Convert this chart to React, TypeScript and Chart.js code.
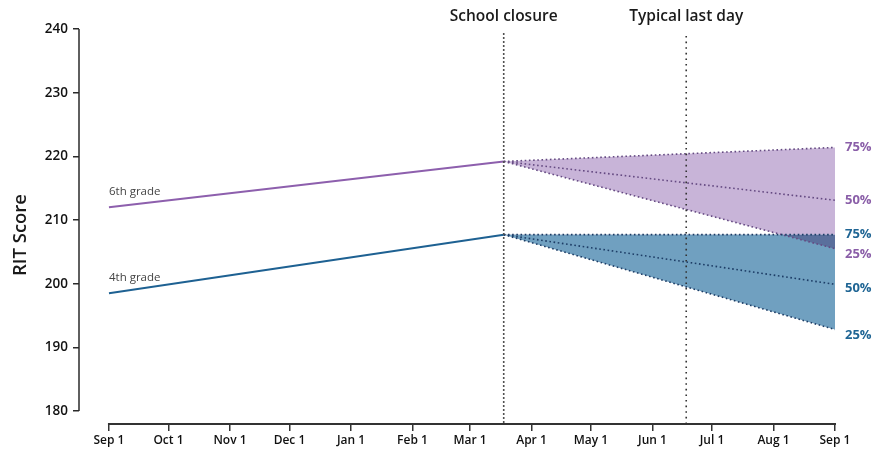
import React, { useEffect, useRef } from 'react';
import { Chart, registerables } from 'chart.js';

Chart.register(...registerables);

// ---- Data ----
const monthDays = [0, 30, 61, 91, 122, 153, 182, 213, 243, 274, 304, 335, 366];
const monthLabels = ['Sep 1', 'Oct 1', 'Nov 1', 'Dec 1', 'Jan 1', 'Feb 1', 'Mar 1', 'Apr 1', 'May 1', 'Jun 1', 'Jul 1', 'Aug 1', 'Sep 1'];
const yTicks = [180, 190, 200, 210, 220, 230, 240];
const yTitle = 'RIT Score';

const closureDay = 199;
const lastDay = 291;
const endDay = 366;

const sixthActual = [212.0, 219.2]; // Sep 1, school closure
const fourthActual = [198.5, 207.7];

const percentileLabels = ['75%', '50%', '25%'];
const sixthEnd = [221.4, 213.1, 205.5]; // projected on Sep 1
const fourthEnd = [207.7, 199.9, 192.8];

const gradeLabels = ['6th grade', '4th grade'];
const eventLabels = ['School closure', 'Typical last day'];

// ---- Styles ----
const FONT = '"Open Sans", "Noto Sans", sans-serif';
const PURPLE = '#8d5fad';
const PURPLE_TEXT = '#8a5ea8';
const PURPLE_DOT = '#654a82';
const PURPLE_FILL = '#c8b4d8';
const BLUE = '#1e6192';
const BLUE_TEXT = '#1f6594';
const BLUE_DOT = '#1d3d66';
const BLUE_FILL = '#70a0c0';
const OVERLAP = '#5a6f9c';

const seg = (x0: number, y0: number, x1: number, y1: number) => [
  { x: x0, y: y0 },
  { x: x1, y: y1 },
];

const overlayPlugin = {
  id: 'overlay',
  afterDraw(chart: any) {
    const { ctx, scales } = chart;
    const xs = scales.x;
    const ys = scales.y;
    const axisY = chart.chartArea.bottom;
    ctx.save();

    // vertical event lines
    const xc = xs.getPixelForValue(closureDay);
    ctx.strokeStyle = '#505050';
    ctx.lineWidth = 1.6;
    ctx.setLineDash([2, 2]);
    ctx.beginPath();
    ctx.moveTo(xc, 33);
    ctx.lineTo(xc, axisY);
    ctx.stroke();

    const xl = xs.getPixelForValue(lastDay);
    ctx.strokeStyle = '#333';
    ctx.lineWidth = 1.6;
    ctx.setLineDash([1.6, 4]);
    ctx.beginPath();
    ctx.moveTo(xl, 36);
    ctx.lineTo(xl, axisY);
    ctx.stroke();
    ctx.setLineDash([]);

    // axis lines
    ctx.strokeStyle = '#2a2a2a';
    ctx.lineWidth = 1.5;
    const ax = chart.chartArea.left;
    ctx.beginPath();
    ctx.moveTo(ax, ys.getPixelForValue(yTicks[yTicks.length - 1]));
    ctx.lineTo(ax, ys.getPixelForValue(yTicks[0]));
    ctx.stroke();
    ctx.lineWidth = 2;
    ctx.strokeStyle = '#333';
    ctx.beginPath();
    ctx.moveTo(xs.getPixelForValue(monthDays[0]) - 1, axisY);
    ctx.lineTo(xs.getPixelForValue(monthDays[monthDays.length - 1]) + 1, axisY);
    ctx.stroke();

    // y-axis title
    ctx.save();
    ctx.translate(21, 235);
    ctx.rotate(-Math.PI / 2);
    ctx.fillStyle = '#1a1a1a';
    ctx.font = `600 18.5px ${FONT}`;
    ctx.textAlign = 'center';
    ctx.textBaseline = 'middle';
    ctx.fillText(yTitle, 0, 0);
    ctx.restore();

    // event labels
    ctx.fillStyle = '#1a1a1a';
    ctx.font = `600 15.5px ${FONT}`;
    ctx.textAlign = 'center';
    ctx.textBaseline = 'middle';
    ctx.fillText(eventLabels[0], xc, 17);
    ctx.fillText(eventLabels[1], xl, 17);

    // grade labels
    ctx.font = `11.5px ${FONT}`;
    ctx.fillStyle = '#444';
    ctx.textAlign = 'left';
    ctx.textBaseline = 'alphabetic';
    const x0 = xs.getPixelForValue(0);
    ctx.fillText(gradeLabels[0], x0, ys.getPixelForValue(sixthActual[0]) - 12);
    ctx.fillText(gradeLabels[1], x0, ys.getPixelForValue(fourthActual[0]) - 12);

    // percentile labels
    ctx.font = `700 13px ${FONT}`;
    ctx.textBaseline = 'middle';
    const xe = xs.getPixelForValue(endDay) + 10;
    const sixthOffsets = [0, 0, 6];
    const fourthOffsets = [0, 4, 6];
    ctx.fillStyle = PURPLE_TEXT;
    sixthEnd.forEach((v, i) => ctx.fillText(percentileLabels[i], xe, ys.getPixelForValue(v) + sixthOffsets[i]));
    ctx.fillStyle = BLUE_TEXT;
    fourthEnd.forEach((v, i) => ctx.fillText(percentileLabels[i], xe, ys.getPixelForValue(v) + fourthOffsets[i]));

    ctx.restore();
  },
};

const dotted = (color: string) => ({
  borderColor: color,
  borderWidth: 1.6,
  borderDash: [1.6, 2.6],
  pointRadius: 0,
});

export default function App() {
  const ref = useRef<HTMLCanvasElement>(null);

  useEffect(() => {
    const canvas = ref.current!;
    const chart = new Chart(canvas, {
      type: 'line',
      data: {
        datasets: [
          // 0: 6th grade actual
          {
            data: seg(0, sixthActual[0], closureDay, sixthActual[1]),
            borderColor: PURPLE,
            borderWidth: 2,
            pointRadius: 0,
            fill: false,
            order: 0,
          },
          // 1: 4th grade actual
          {
            data: seg(0, fourthActual[0], closureDay, fourthActual[1]),
            borderColor: BLUE,
            borderWidth: 2,
            pointRadius: 0,
            fill: false,
            order: 0,
          },
          // 2: 6th 25% (overlap fill with 4th 75%)
          {
            data: seg(closureDay, sixthActual[1], endDay, sixthEnd[2]),
            ...dotted(PURPLE_DOT),
            fill: { target: 5, above: 'rgba(0,0,0,0)', below: OVERLAP },
            order: 8,
          },
          // 3: 6th 75% (purple band)
          {
            data: seg(closureDay, sixthActual[1], endDay, sixthEnd[0]),
            ...dotted(PURPLE_DOT),
            fill: { target: 2, above: PURPLE_FILL, below: PURPLE_FILL },
            order: 10,
          },
          // 4: 4th 25% (blue band)
          {
            data: seg(closureDay, fourthActual[1], endDay, fourthEnd[2]),
            ...dotted(BLUE_DOT),
            fill: { target: 5, above: BLUE_FILL, below: BLUE_FILL },
            order: 9,
          },
          // 5: 4th 75%
          {
            data: seg(closureDay, fourthActual[1], endDay, fourthEnd[0]),
            ...dotted(BLUE_DOT),
            fill: false,
            order: 1,
          },
          // 6: 6th 50%
          {
            data: seg(closureDay, sixthActual[1], endDay, sixthEnd[1]),
            ...dotted(PURPLE_DOT),
            fill: false,
            order: 2,
          },
          // 7: 4th 50%
          {
            data: seg(closureDay, fourthActual[1], endDay, fourthEnd[1]),
            ...dotted(BLUE_DOT),
            fill: false,
            order: 2,
          },
        ] as any,
      },
      options: {
        animation: false,
        responsive: false,
        devicePixelRatio: 1,
        events: [],
        layout: { padding: { left: 0, right: 40, top: 29, bottom: 0 } },
        plugins: {
          legend: { display: false },
          tooltip: { enabled: false },
        },
        scales: {
          x: {
            type: 'linear',
            min: -15.1,
            max: endDay,
            afterBuildTicks: (scale: any) => {
              scale.ticks = monthDays.map((v) => ({ value: v }));
            },
            afterFit: (scale: any) => {
              scale.height = 28;
            },
            ticks: {
              autoSkip: false,
              maxRotation: 0,
              padding: 2,
              color: '#111',
              font: { family: FONT, size: 12, weight: '600' },
              callback: (v: any) => {
                const i = monthDays.indexOf(Number(v));
                return i >= 0 ? monthLabels[i] : '';
              },
            },
            grid: {
              display: true,
              drawOnChartArea: false,
              drawTicks: true,
              tickLength: 7,
              color: '#333',
              lineWidth: 1.5,
            },
            border: { display: false },
          },
          y: {
            type: 'linear',
            min: 177.96,
            max: 240,
            afterBuildTicks: (scale: any) => {
              scale.ticks = yTicks.map((v) => ({ value: v }));
            },
            afterFit: (scale: any) => {
              scale.width = 79;
            },
            ticks: {
              padding: 5,
              color: '#111',
              font: { family: FONT, size: 13.5, weight: '600' },
            },
            grid: {
              display: true,
              drawOnChartArea: false,
              drawTicks: true,
              tickLength: 6,
              color: '#2a2a2a',
              lineWidth: 1.5,
            },
            border: { display: false },
          },
        },
      },
      plugins: [overlayPlugin],
    } as any);
    return () => chart.destroy();
  }, []);

  return (
    <div style={{ position: 'absolute', left: 0, top: 0, width: 875, height: 452 }}>
      <canvas ref={ref} width={875} height={452} style={{ display: 'block' }} />
    </div>
  );
}
